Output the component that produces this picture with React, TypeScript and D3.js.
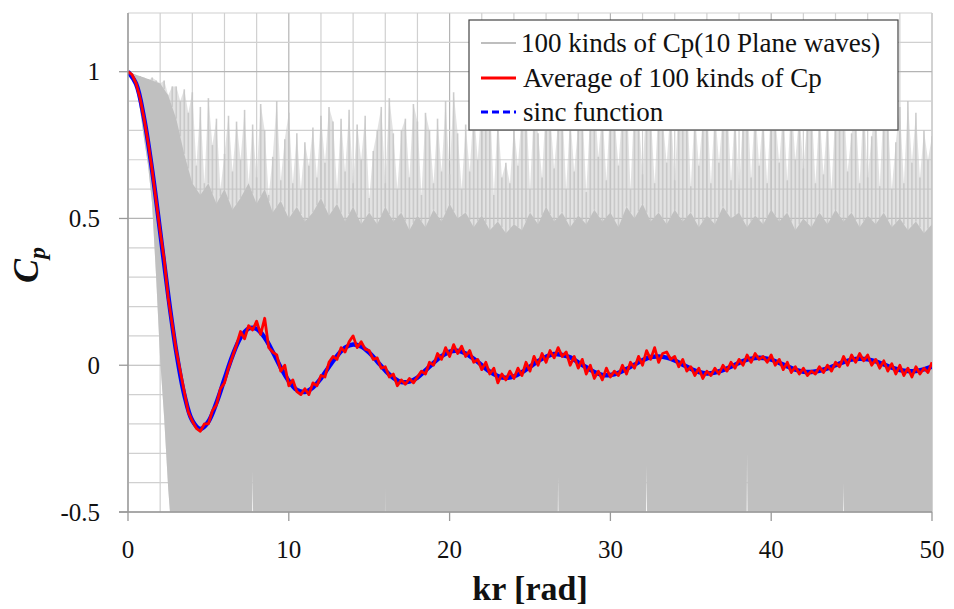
import React from "react";
import * as d3 from "d3";

// axis ticks and legend text
const krTicks = [0, 10, 20, 30, 40, 50];
const cpTicks = [-0.5, 0, 0.5, 1];
const cpTickLabels = ["-0.5", "0", "0.5", "1"];
const legendLabels = ["100 kinds of Cp(10 Plane waves)", "Average of 100 kinds of Cp", "sinc function"];

// 100 curves drawn as one gray bundle: spike tops (kr step 0.25)
const graySpikeTop = [
  1.0, 0.99, 0.99, 0.98, 0.98, 0.97, 0.98, 0.97, 0.96, 0.97, 0.92, 0.95, 0.95, 0.9, 0.94,
  0.86, 0.93, 0.68, 0.88, 0.62, 0.91, 0.75, 0.84,
  0.6, 0.72, 0.85, 0.66, 0.83, 0.7, 0.87, 0.62,
  0.82, 0.64, 0.89, 0.8, 0.58, 0.71, 0.9, 0.63,
  0.77, 0.86, 0.62, 0.79, 0.6, 0.76, 0.68, 0.81,
  0.64, 0.85, 0.69, 0.88, 0.83, 0.6, 0.84, 0.66,
  0.87, 0.62, 0.82, 0.7, 0.85, 0.57, 0.73, 0.8,
  0.88, 0.62, 0.91, 0.79, 0.6, 0.8, 0.84, 0.64,
  0.89, 0.83, 0.58, 0.86, 0.8, 0.62, 0.84, 0.66,
  0.9, 0.65, 0.93, 0.79, 0.6, 0.82, 0.66, 0.88,
  0.7, 0.9, 0.84, 0.92, 0.58, 0.85, 0.64, 0.69,
  0.62, 0.81, 0.68, 0.87, 0.9, 0.6, 0.88, 0.79,
  0.64, 0.91, 0.86, 0.67, 0.83, 0.89, 0.6, 0.85,
  0.66, 0.82, 0.88, 0.59, 0.86, 0.92, 0.71, 0.87,
  0.63, 0.9, 0.85, 0.68, 0.88, 0.94, 0.6, 0.91,
  0.86, 0.65, 0.93, 0.87, 0.62, 0.89, 0.84, 0.69,
  0.88, 0.63, 0.9, 0.85, 0.92, 0.61, 0.87, 0.68,
  0.84, 0.9, 0.62, 0.88, 0.69, 0.86, 0.91, 0.63,
  0.87, 0.6, 0.85, 0.92, 0.64, 0.89, 0.68, 0.86,
  0.62, 0.9, 0.85, 0.69, 0.88, 0.63, 0.91, 0.7,
  0.86, 0.67, 0.84, 0.9, 0.62, 0.87, 0.65, 0.85,
  0.6, 0.88, 0.83, 0.92, 0.66, 0.79, 0.87, 0.62,
  0.9, 0.64, 0.78, 0.87, 0.61, 0.89, 0.85, 0.6,
  0.76, 0.88, 0.62, 0.9, 0.69, 0.86, 0.64, 0.8,
  0.7, 0.78,
];

// solid core of the bundle (kr step 0.5)
const grayCoreTop = [
  1.0, 0.99, 0.98, 0.97, 0.96, 0.92, 0.84, 0.72, 0.62, 0.58, 0.62, 0.55, 0.6, 0.53, 0.57, 0.62,
  0.55, 0.6, 0.52, 0.56, 0.5, 0.54, 0.49, 0.52, 0.57, 0.51, 0.55, 0.49, 0.54, 0.48, 0.52,
  0.48, 0.54, 0.49, 0.52, 0.46, 0.51, 0.47, 0.53, 0.49, 0.55, 0.5, 0.52, 0.47, 0.51, 0.46,
  0.49, 0.45, 0.48, 0.46, 0.52, 0.48, 0.54, 0.49, 0.52, 0.47, 0.51, 0.48, 0.53, 0.49, 0.52,
  0.47, 0.54, 0.5, 0.55, 0.49, 0.52, 0.48, 0.53, 0.49, 0.52, 0.47, 0.51, 0.48, 0.54, 0.5,
  0.52, 0.47, 0.51, 0.48, 0.53, 0.49, 0.52, 0.46, 0.5, 0.47, 0.52, 0.48, 0.53, 0.49, 0.52,
  0.47, 0.51, 0.48, 0.52, 0.47, 0.5, 0.46, 0.49, 0.45, 0.48,
];

// lower edge of the bundle, read at these kr
const grayBottomKr = [0, 0.25, 0.5, 0.75, 1, 1.25, 1.5, 1.75, 2, 2.25, 2.5, 2.75, 7.7, 7.75, 7.8, 15.95, 16.0, 16.05, 26.7, 26.75, 26.8, 32.2, 32.25, 32.3, 38.45, 38.5, 38.55, 44.45, 44.5, 44.55, 50];
const grayBottom = [1, 0.99, 0.95, 0.87, 0.77, 0.68, 0.55, 0.3, 0.02, -0.18, -0.42, -0.6, -0.6, -0.36, -0.6, -0.6, -0.42, -0.6, -0.6, -0.38, -0.6, -0.6, -0.34, -0.6, -0.6, -0.3, -0.6, -0.6, -0.4, -0.6, -0.6];

// red average curve (kr step 0.25)
const averageCp = [
  1.0, 0.99, 0.96, 0.91, 0.84, 0.76, 0.665, 0.56, 0.455, 0.36, 0.23, 0.14, 0.05,
  -0.02, -0.09, -0.16, -0.19, -0.215, -0.225, -0.2, -0.2, -0.155, -0.135, -0.08, -0.06,
  -0.01, 0.03, 0.07, 0.115, 0.09, 0.135, 0.12, 0.15, 0.105, 0.16, 0.06, 0.045,
  0.035, -0.02, 0.0, -0.07, -0.05, -0.09, -0.1, -0.08, -0.1, -0.06, -0.07,
  -0.035, -0.04, 0.01, 0.03, 0.02, 0.06, 0.045, 0.08, 0.1, 0.06, 0.08, 0.055,
  0.05, 0.02, 0.025, -0.01, -0.005, -0.04, -0.03, -0.07, -0.05, -0.065, -0.045, -0.06,
  -0.04, -0.02, -0.03, 0.01, 0.0, 0.04, 0.02, 0.06, 0.03, 0.07, 0.04, 0.065,
  0.03, 0.05, 0.01, 0.02, -0.015, 0.01, -0.03, -0.01, -0.06, -0.03, -0.05, -0.02,
  -0.045, -0.01, -0.035, 0.01, -0.02, 0.03, 0.0, 0.04, 0.01, 0.05, 0.025, 0.06,
  0.03, 0.045, 0.0, 0.03, -0.01, 0.02, -0.03, 0.0, -0.045, -0.02, -0.05, -0.01,
  -0.04, -0.02, -0.035, 0.0, -0.03, 0.01, -0.01, 0.03, 0.0, 0.05, 0.02, 0.06,
  0.01, 0.04, 0.045, 0.02, 0.03, -0.005, 0.02, -0.02, -0.005, -0.035, -0.01, -0.045,
  -0.02, -0.035, -0.01, -0.03, 0.0, -0.02, 0.01, -0.01, 0.02, 0.0, 0.035, 0.01,
  0.04, 0.02, 0.03, 0.01, 0.035, 0.0, 0.02, -0.015, 0.01, -0.025, -0.005, -0.03,
  -0.01, -0.035, -0.02, -0.03, -0.005, -0.025, 0.0, -0.02, 0.01, -0.005, 0.03, 0.0,
  0.035, 0.01, 0.04, 0.015, 0.035, 0.0, 0.02, -0.01, 0.015, -0.02, 0.005, -0.03,
  0.0, -0.035, -0.01, -0.04, -0.005, -0.03, -0.01, -0.025, 0.01,
];

// blue sinc curve (kr step 0.5)
const sincCp = [
  1, 0.959, 0.841, 0.665, 0.455, 0.239, 0.047, -0.1, -0.189, -0.217, -0.192, -0.128, -0.047,
  0.033, 0.094, 0.125, 0.124, 0.094, 0.046, -0.008, -0.054, -0.084, -0.091, -0.076, -0.045,
  -0.005, 0.032, 0.06, 0.071, 0.064, 0.043, 0.013, -0.018, -0.043, -0.057, -0.056, -0.042,
  -0.018, 0.008, 0.031, 0.046, 0.049, 0.04, 0.022, 0.0, -0.022, -0.037, -0.043, -0.038,
  -0.024, -0.005, 0.014, 0.029, 0.038, 0.035, 0.027, 0.01, -0.007, -0.023, -0.033, -0.033,
  -0.026, -0.013, 0.002, 0.017, 0.028, 0.03, 0.026, 0.016, 0.002, -0.012, -0.023, -0.028,
  -0.025, -0.017, -0.005, 0.008, 0.019, 0.025, 0.025, 0.019, 0.008, -0.004, -0.015, -0.022,
  -0.023, -0.019, -0.011, 0.0, 0.011, 0.019, 0.022, 0.02, 0.013, 0.003, -0.008, -0.016,
  -0.02, -0.02, -0.014, -0.005,
];

const W = 954;
const H = 609;
const serif = "'Liberation Serif', 'Times New Roman', serif";

export default function App() {
  const x = d3.scaleLinear().domain([0, 50]).range([128, 932]);
  const y = d3.scaleLinear().domain([-0.5, 1.2]).range([512, 13]);

  const line = d3.line<[number, number]>().x((d) => x(d[0])).y((d) => y(d[1]));
  const smooth = d3.line<[number, number]>().x((d) => x(d[0])).y((d) => y(d[1])).curve(d3.curveCatmullRom);

  const bottomPts: [number, number][] = grayBottomKr.map((k, i) => [k, grayBottom[i]]);
  const bundle = (top: number[], step: number) => {
    const topPts: [number, number][] = top.map((v, i) => [i * step, v]);
    const back = line(bottomPts.slice().reverse()) || "";
    return (line(topPts) || "") + "L" + back.slice(1) + "Z";
  };
  const coreAt = d3.scaleLinear().domain(grayCoreTop.map((_, i) => i * 0.5)).range(grayCoreTop);

  const avgPts: [number, number][] = averageCp.map((v, i) => [i * 0.25, v]);
  const sincPts: [number, number][] = sincCp.map((v, i) => [i * 0.5, v]);

  const vGrid = d3.range(0, 51, 2);
  const hGrid = d3.range(-5, 13).map((i) => i / 10);

  return (
    <svg width={W} height={H} style={{ position: "absolute", left: 0, top: 0, background: "#fff" }}>
      <defs>
        <clipPath id="plot">
          <rect x={x(0)} y={y(1.2)} width={x(50) - x(0)} height={y(-0.5) - y(1.2)} />
        </clipPath>
      </defs>

      {/* grid */}
      {vGrid.map((k) => (
        <line key={"v" + k} x1={x(k)} x2={x(k)} y1={y(1.2)} y2={y(-0.5)}
          stroke={k % 10 === 0 ? "#b4b4b4" : "#d0d0d0"} strokeWidth={1.2} />
      ))}
      {hGrid.map((v) => (
        <line key={"h" + v} x1={x(0)} x2={x(50)} y1={y(v)} y2={y(v)}
          stroke={Math.abs(v * 2 - Math.round(v * 2)) < 1e-6 ? "#b4b4b4" : "#d0d0d0"} strokeWidth={1.2} />
      ))}

      {/* gray bundle */}
      <g clipPath="url(#plot)">
        <path d={bundle(graySpikeTop, 0.25)} fill="#c6c6c6" fillOpacity={0.5} />
        <g stroke="#c4c4c4" strokeWidth={1.6} strokeOpacity={0.85}>
          {graySpikeTop.map((v, i) => (
            <line key={"s" + i} x1={x(i * 0.25)} x2={x(i * 0.25)} y1={y(v)} y2={y(coreAt(i * 0.25))} />
          ))}
        </g>
        <path d={bundle(grayCoreTop, 0.5)} fill="#c0c0c0" />
        <path d={smooth(sincPts) || ""} fill="none" stroke="#0000ff" strokeWidth={4.5} />
        <path d={line(avgPts) || ""} fill="none" stroke="#ff0000" strokeWidth={2.8} strokeLinejoin="round" />
      </g>

      {/* axes */}
      <line x1={x(0)} x2={x(0)} y1={y(1.2)} y2={y(-0.5)} stroke="#999" strokeWidth={1.3} />
      <line x1={x(0) - 9} x2={x(50)} y1={y(-0.5)} y2={y(-0.5)} stroke="#999" strokeWidth={1.3} />
      {cpTicks.map((v, i) => (
        <g key={"yt" + v}>
          <line x1={x(0) - 9} x2={x(0)} y1={y(v)} y2={y(v)} stroke="#999" strokeWidth={1.3} />
          <text x={100} y={y(v)} dy="0.35em" textAnchor="end" fontFamily={serif} fontSize={25} fill="#111">
            {cpTickLabels[i]}
          </text>
        </g>
      ))}
      {krTicks.map((k) => (
        <g key={"xt" + k}>
          <line x1={x(k)} x2={x(k)} y1={y(-0.5)} y2={y(-0.5) + 9} stroke="#999" strokeWidth={1.3} />
          <text x={x(k)} y={558} textAnchor="middle" fontFamily={serif} fontSize={25} fill="#111">
            {k}
          </text>
        </g>
      ))}

      {/* axis titles */}
      <text x={530} y={600} textAnchor="middle" fontFamily={serif} fontSize={34} fontWeight="bold" fill="#111">
        kr [rad]
      </text>
      <text transform="translate(38,265) rotate(-90)" textAnchor="middle" fontFamily={serif}
        fontSize={36} fontWeight="bold" fontStyle="italic" fill="#111">
        C<tspan fontSize={24} dy={7}>p</tspan>
      </text>

      {/* legend */}
      <rect x={469} y={20} width={429} height={110} fill="#fff" stroke="#444" strokeWidth={1.2} />
      <line x1={481} x2={516} y1={43} y2={43} stroke="#a8a8a8" strokeWidth={1.5} />
      <line x1={481} x2={516} y1={78} y2={78} stroke="#ff0000" strokeWidth={3} />
      <line x1={481} x2={516} y1={112} y2={112} stroke="#0000ff" strokeWidth={3} strokeDasharray="7,4" />
      {legendLabels.map((t, i) => (
        <text key={t} x={i === 0 ? 521 : 523} y={[43, 78, 112][i]} dy="0.33em" fontFamily={serif} fontSize={27} fill="#111">
          {t}
        </text>
      ))}
    </svg>
  );
}
